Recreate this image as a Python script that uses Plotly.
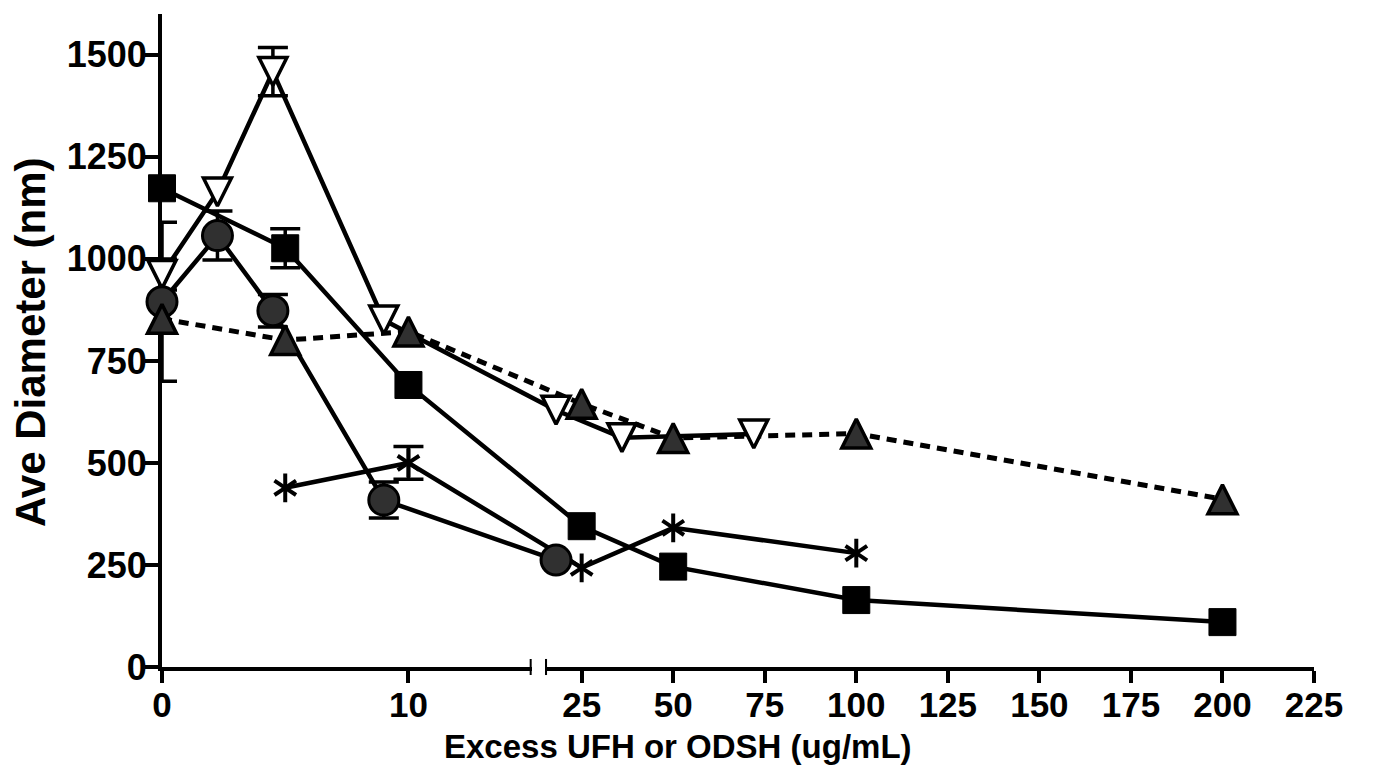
import plotly.graph_objects as go

# ---------------- data ----------------
# filled squares, solid line
sq_x = [0, 5, 10, 25, 50, 100, 200]
sq_y = [1173, 1026, 691, 345, 246, 164, 110]
sq_err = [None, 48, None, None, None, None, None]

# dark circles, solid line
ci_x = [0, 2.25, 4.5, 9, 18]
ci_y = [895, 1057, 873, 409, 262]
ci_err = [195, 60, 40, 44, None]

# open down-triangles, solid line
td_x = [0, 2.25, 4.5, 9, 18, 36, 72]
td_y = [962, 1164, 1459, 850, 629, 562, 571]
td_err = [38, None, 59, None, None, None, None]

# dark up-triangles, dashed line
tu_x = [0, 5, 10, 25, 50, 100, 200]
tu_y = [853, 801, 822, 645, 561, 572, 411]
tu_err = [None] * 7

# asterisks, solid line
st_x = [5, 10, 25, 50, 100]
st_y = [439, 500, 243, 341, 279]
st_err = [None, 40, None, None, None]

# axis definitions (broken x axis)
SEG1_RANGE = [0, 15]
SEG2_RANGE = [15, 225]
SEG1_DOMAIN = [0, 0.3209]
SEG2_DOMAIN = [0.3325, 1.0]
SEG1_TICKS = [0, 10]
SEG2_TICKS = [25, 50, 75, 100, 125, 150, 175, 200, 225]
Y_RANGE = [0, 1600]
Y_TICKS = [0, 250, 500, 750, 1000, 1250, 1500]

X_TITLE = "Excess UFH or ODSH (ug/mL)"
Y_TITLE = "Ave Diameter (nm)"


def broken(v):
    """Scale for the two-segment x axis -> fraction of plot width."""
    if v <= SEG1_RANGE[1]:
        lo, hi, d = SEG1_RANGE[0], SEG1_RANGE[1], SEG1_DOMAIN
    else:
        lo, hi, d = SEG2_RANGE[0], SEG2_RANGE[1], SEG2_DOMAIN
    return d[0] + (v - lo) / (hi - lo) * (d[1] - d[0])


def bx(xs):
    return [broken(v) for v in xs]


FONT = "Liberation Sans, Arial, Helvetica, sans-serif"
DARK = "#303030"

fig = go.Figure()

series = [
    (sq_x, sq_y, sq_err, "solid", 4.5),
    (td_x, td_y, td_err, "solid", 4.5),
    (ci_x, ci_y, ci_err, "solid", 4.5),
    (tu_x, tu_y, tu_err, "10px,7px", 5),
    (st_x, st_y, st_err, "solid", 4.5),
]

# lines first
for xs, ys, errs, dash, lw in series:
    fig.add_trace(go.Scatter(
        x=bx(xs), y=ys, xaxis="x3", yaxis="y", mode="lines",
        line=dict(color="black", width=lw, dash=dash),
        hoverinfo="skip", showlegend=False))

# error bars
for xs, ys, errs, dash, lw in series:
    ex = [x for x, e in zip(xs, errs) if e is not None]
    ey = [y for y, e in zip(ys, errs) if e is not None]
    ee = [e for e in errs if e is not None]
    if ex:
        fig.add_trace(go.Scatter(
            x=bx(ex), y=ey, xaxis="x3", yaxis="y", mode="markers",
            marker=dict(size=1, color="rgba(0,0,0,0)"),
            error_y=dict(type="data", array=ee, color="black",
                         thickness=3.5, width=15),
            cliponaxis=False, hoverinfo="skip", showlegend=False))

# markers
fig.add_trace(go.Scatter(
    x=bx(sq_x), y=sq_y, xaxis="x3", yaxis="y", mode="markers",
    marker=dict(symbol="square", size=27, color="black",
                line=dict(color="black", width=1)),
    cliponaxis=False, showlegend=False))

fig.add_trace(go.Scatter(
    x=bx(td_x), y=td_y, xaxis="x3", yaxis="y", mode="markers",
    marker=dict(symbol="arrow-down", size=28, angle=0, standoff=14,
                color="white", line=dict(color="black", width=3.5)),
    cliponaxis=False, showlegend=False))

fig.add_trace(go.Scatter(
    x=bx(ci_x), y=ci_y, xaxis="x3", yaxis="y", mode="markers",
    marker=dict(symbol="circle", size=30, color=DARK,
                line=dict(color="black", width=3)),
    cliponaxis=False, showlegend=False))

fig.add_trace(go.Scatter(
    x=bx(tu_x), y=tu_y, xaxis="x3", yaxis="y", mode="markers",
    marker=dict(symbol="arrow-down", size=29, angle=180, standoff=14.5,
                color=DARK, line=dict(color="black", width=3.5)),
    cliponaxis=False, showlegend=False))

for sym in ("y-up-open", "y-down-open"):
    fig.add_trace(go.Scatter(
        x=bx(st_x), y=st_y, xaxis="x3", yaxis="y", mode="markers",
        marker=dict(symbol=sym, size=18, color="black",
                    line=dict(color="black", width=4)),
        cliponaxis=False, showlegend=False))

axis_style = dict(
    showline=True, linewidth=4, linecolor="black",
    ticks="outside", ticklen=12, tickwidth=4, tickcolor="black",
    showgrid=False, zeroline=False, ticklabelstandoff=-8,
    tickfont=dict(family=FONT, size=35, color="black", weight="bold"),
)

fig.update_layout(
    width=1374, height=781,
    margin=dict(l=154, r=68, t=6, b=122),
    paper_bgcolor="white", plot_bgcolor="rgba(0,0,0,0)",
    showlegend=False,
    font=dict(family=FONT, color="black"),
    xaxis=dict(domain=SEG1_DOMAIN, range=SEG1_RANGE, tickvals=SEG1_TICKS,
               anchor="y", **axis_style),
    xaxis2=dict(domain=SEG2_DOMAIN, range=SEG2_RANGE, tickvals=SEG2_TICKS,
                anchor="y", **axis_style),
    xaxis3=dict(domain=[0, 1], range=[0, 1], visible=False, anchor="y",
                fixedrange=True),
    yaxis=dict(range=Y_RANGE, tickvals=Y_TICKS, anchor="x",
               showline=True, linewidth=4, linecolor="black",
               ticks="outside", ticklen=13, tickwidth=4, tickcolor="black",
               showgrid=False, zeroline=False, ticklabelstandoff=-9,
               tickfont=dict(family=FONT, size=36, color="black",
                             weight="bold")),
    shapes=[
        dict(type="line", xref="x", yref="paper",
             x0=SEG1_RANGE[1], x1=SEG1_RANGE[1], y0=-0.0123, y1=0.0123,
             line=dict(color="black", width=4)),
        dict(type="line", xref="x2", yref="paper",
             x0=SEG2_RANGE[0], x1=SEG2_RANGE[0], y0=-0.0123, y1=0.0123,
             line=dict(color="black", width=4)),
    ],
    annotations=[
        dict(text=X_TITLE, xref="paper", yref="paper", x=0.4475, y=-0.121,
             xanchor="center", yanchor="middle", showarrow=False,
             font=dict(family=FONT, size=33, color="black", weight="bold")),
        dict(text=Y_TITLE, xref="paper", yref="paper", x=-0.1146, y=0.4977,
             xanchor="center", yanchor="middle", showarrow=False,
             textangle=-90,
             font=dict(family=FONT, size=42, color="black", weight="bold")),
    ],
)

fig.write_html("out.html")
